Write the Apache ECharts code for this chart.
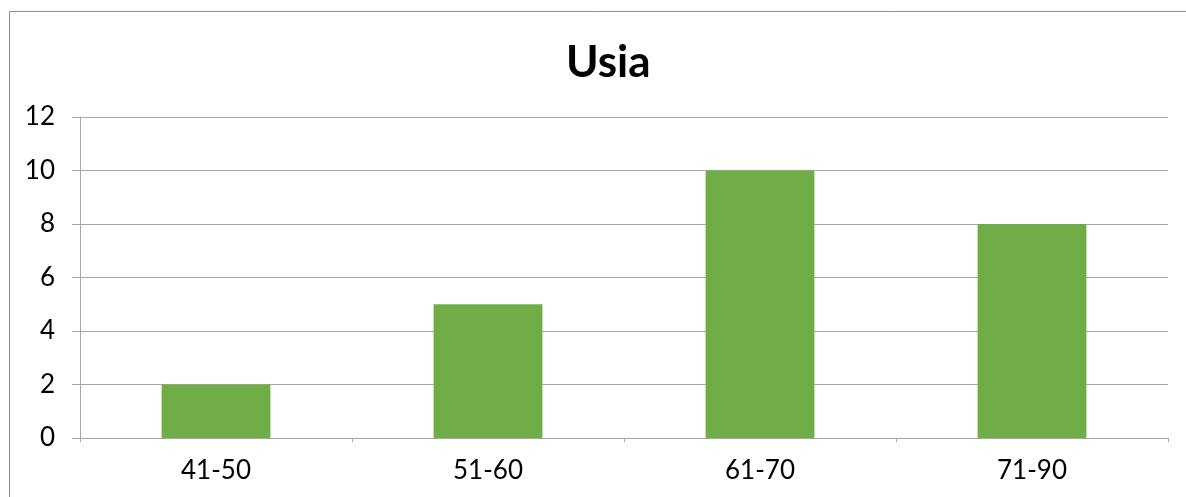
<!DOCTYPE html>
<html>
<head>
<meta charset="utf-8">
<script src="https://cdn.jsdelivr.net/npm/echarts@6/dist/echarts.min.js"></script>
<style>
  html, body { margin: 0; padding: 0; background: #fff; }
  #chart { width: 1186px; height: 497px; }
</style>
</head>
<body>
<div id="chart"></div>
<script>
// data
const categories = ["41-50", "51-60", "61-70", "71-90"];
const counts = [2, 5, 10, 8];
const yTicks = { min: 0, max: 12, step: 2 };

const axisGray = "#a6a6a6";
const font = "Lato, 'Open Sans', sans-serif";

const chart = echarts.init(document.getElementById("chart"));

chart.setOption({
  animation: false,
  title: {
    text: "Usia",
    left: 561,
    top: 36,
    textStyle: { fontFamily: font, fontSize: 44, fontWeight: "bold", color: "#000" },
  },
  // outer frame of the chart
  graphic: [
    {
      type: "rect",
      shape: { x: 9.5, y: 11.5, width: 1400, height: 700 },
      style: { fill: null, stroke: "#8c8c8c", lineWidth: 1 },
      silent: true,
    },
  ],
  grid: { left: 80, right: 18, top: 117, bottom: 59 },
  xAxis: {
    type: "category",
    data: categories,
    axisLine: { lineStyle: { color: axisGray, width: 1 } },
    axisTick: { show: true, length: 4, lineStyle: { color: axisGray } },
    axisLabel: { fontFamily: font, fontSize: 26, color: "#000", margin: 20 },
  },
  yAxis: {
    type: "value",
    min: yTicks.min,
    max: yTicks.max,
    interval: yTicks.step,
    axisLine: { show: true, lineStyle: { color: axisGray, width: 1 } },
    axisTick: { show: true, length: 8, lineStyle: { color: axisGray } },
    splitLine: { lineStyle: { color: axisGray, width: 1 } },
    axisLabel: { fontFamily: font, fontSize: 26, color: "#000", margin: 25 },
  },
  series: [
    {
      type: "bar",
      data: counts,
      barWidth: "40%",
      itemStyle: { color: "#70ad47" },
    },
  ],
});
</script>
</body>
</html>
